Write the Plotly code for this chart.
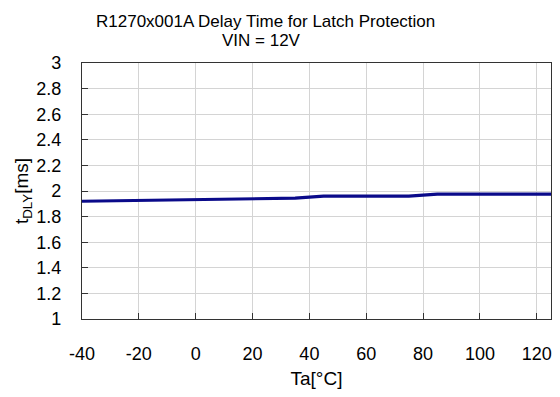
import plotly.graph_objects as go

temps = [-40, 25, 35, 45, 75, 85, 100, 125]
delay_ms = [1.92, 1.94, 1.944, 1.96, 1.96, 1.975, 1.975, 1.975]
x_ticks = [-40, -20, 0, 20, 40, 60, 80, 100, 120]
y_ticks = [1, 1.2, 1.4, 1.6, 1.8, 2, 2.2, 2.4, 2.6, 2.8, 3]
title_lines = ["R1270x001A Delay Time for Latch Protection", "VIN = 12V"]

font = "Liberation Sans, Arial, sans-serif"
W, H = 560, 397
ML, MR, MT, MB = 82, 9, 63, 78
PW, PH = W - ML - MR, H - MT - MB

def px_x(px):
    return (px - ML) / PW

def px_y(py):
    return (H - MB - py) / PH

fig = go.Figure(go.Scatter(x=temps, y=delay_ms, mode="lines",
                           line=dict(color="#0a0a8a", width=3.2), showlegend=False))

fig.update_layout(
    width=W, height=H,
    margin=dict(l=ML, r=MR, t=MT, b=MB),
    paper_bgcolor="white", plot_bgcolor="white",
    font=dict(family=font, color="black"),
    annotations=[
        dict(text=title_lines[0], x=px_x(265), y=px_y(21), xref="paper", yref="paper",
             xanchor="center", yanchor="middle", showarrow=False, font=dict(size=17)),
        dict(text=title_lines[1], x=px_x(261), y=px_y(40), xref="paper", yref="paper",
             xanchor="center", yanchor="middle", showarrow=False, font=dict(size=17)),
    ],
)

fig.update_xaxes(
    range=[-40, 125], tickvals=x_ticks, ticktext=[str(v) for v in x_ticks],
    showgrid=True, gridcolor="#d4d4d4", gridwidth=1,
    showline=True, linecolor="#333", linewidth=1.3, mirror=True,
    ticks="inside", ticklen=6, tickcolor="#333",
    tickfont=dict(size=18), ticklabelstandoff=18,
    title=dict(text="Ta[°C]", font=dict(size=19), standoff=8),
    zeroline=False,
)
fig.update_yaxes(
    range=[1, 3], tickvals=y_ticks, ticktext=[("%g" % v) for v in y_ticks],
    showgrid=True, gridcolor="#d4d4d4", gridwidth=1,
    showline=True, linecolor="#333", linewidth=1.3, mirror=True,
    ticks="inside", ticklen=6, tickcolor="#333",
    tickfont=dict(size=18), ticklabelstandoff=16,
    title=dict(text="t<sub>DLY</sub>[ms]", font=dict(size=19), standoff=2),
    zeroline=False,
)

fig.write_html("out.html", config={"displayModeBar": False},
               post_script="document.body.style.margin='0';")
